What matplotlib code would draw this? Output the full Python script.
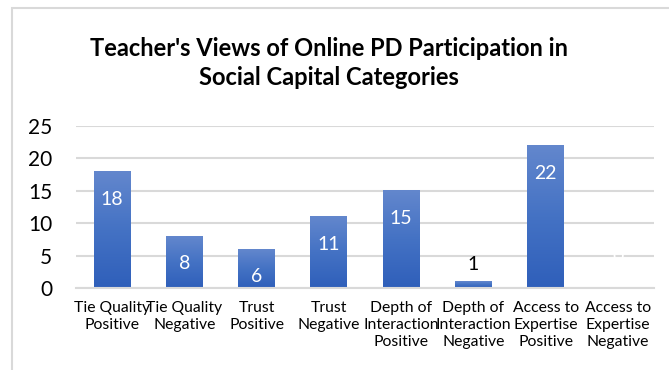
import numpy as np
import matplotlib.pyplot as plt
from matplotlib.colors import LinearSegmentedColormap
from matplotlib.patches import Rectangle

categories = ["Tie Quality\nPositive", "Tie Quality\nNegative", "Trust\nPositive",
              "Trust\nNegative", "Depth of\nInteraction\nPositive",
              "Depth of\nInteraction\nNegative", "Access to\nExpertise\nPositive",
              "Access to\nExpertise\nNegative"]
counts = [18, 8, 6, 11, 15, 1, 22, 0]
yticks = [0, 5, 10, 15, 20, 25]

plt.rcParams['font.family'] = ['Lato', 'DejaVu Sans']

fig = plt.figure(figsize=(6.69, 3.70), dpi=100)
ax = fig.add_axes([0.1136, 0.2216, 0.864, 0.4379])

# outer chart frame
fig.patches.append(Rectangle((12 / 669, -0.5), 2, 1.5 - 8 / 370, transform=fig.transFigure,
                             fill=False, edgecolor='#D9D9D9', linewidth=1.5, zorder=0))

x = np.arange(len(counts))
bars = ax.bar(x, counts, width=0.51, color='none', zorder=2)

# vertical gradient fill in each bar
cmap = LinearSegmentedColormap.from_list('blue', ['#2F5FBA', '#4472C4', '#6387CD'])
grad = np.linspace(0, 1, 256).reshape(-1, 1)
for b in bars:
    h = b.get_height()
    if h <= 0:
        continue
    x0 = b.get_x()
    ax.imshow(grad, extent=(x0, x0 + b.get_width(), 0, h), origin='lower',
              cmap=cmap, aspect='auto', zorder=2)

ax.set_xlim(-0.5, len(counts) - 0.5)
ax.set_ylim(0, 25)
ax.set_yticks(yticks)
ax.set_yticklabels([str(t) for t in yticks], fontsize=15)
ax.set_xticks(x)
ax.set_xticklabels(categories, fontsize=11.3, linespacing=1.3, va='top')
ax.tick_params(axis='both', length=0, colors='black')
ax.tick_params(axis='y', pad=17)
ax.tick_params(axis='x', pad=9)

ax.grid(axis='y', color='#D9D9D9', linewidth=1.5, zorder=0)
ax.set_axisbelow(True)
for s in ['top', 'right', 'left']:
    ax.spines[s].set_visible(False)
ax.spines['bottom'].set_color('#D9D9D9')
ax.spines['bottom'].set_linewidth(1.5)

for xi, v in zip(x, counts):
    if v >= 5:
        ax.annotate(str(v), (xi, v), xytext=(0, -20), textcoords='offset points',
                    ha='center', va='center', color='white', fontsize=14, zorder=3)
    elif v > 0:
        ax.annotate(str(v), (xi, v), xytext=(0, 12), textcoords='offset points',
                    ha='center', va='center', color='black', fontsize=14, zorder=3)
    else:
        ax.annotate(str(v), (xi, v), xytext=(0, 23), textcoords='offset points',
                    ha='center', va='center', color='white', fontsize=14, zorder=3)

fig.text(0.492, 0.83, "Teacher's Views of Online PD Participation in\nSocial Capital Categories",
         ha='center', va='center', fontsize=17, fontweight='bold', linespacing=1.3)

fig.savefig('out.png', dpi=100)
